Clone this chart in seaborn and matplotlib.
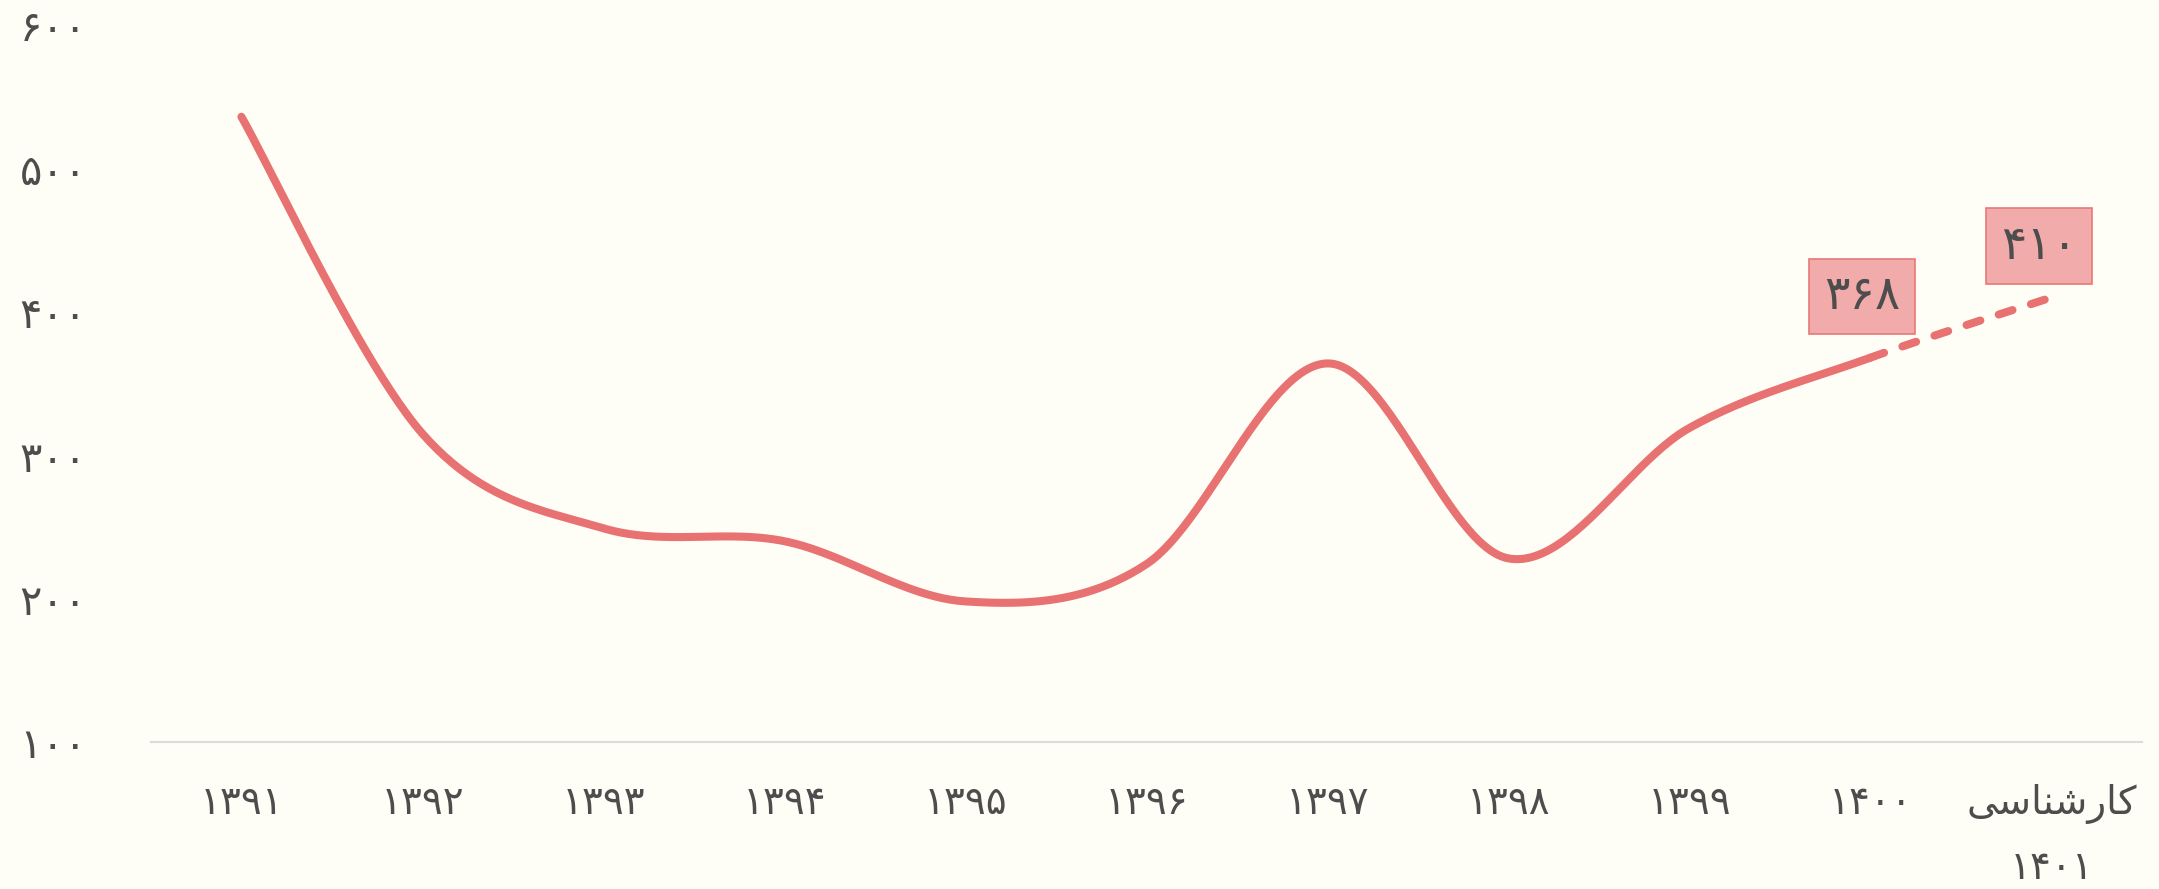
import numpy as np
import pandas as pd
import matplotlib.pyplot as plt
import seaborn as sns

# Data
categories = ['۱۳۹۱', '۱۳۹۲', '۱۳۹۳', '۱۳۹۴', '۱۳۹۵', '۱۳۹۶', '۱۳۹۷',
              '۱۳۹۸', '۱۳۹۹', '۱۴۰۰', 'کارشناسی\n۱۴۰۱']
values = [536, 315, 249, 240, 198, 224, 364, 228, 319, 368, 410]
labeled_points = [9, 10]          # points that carry a value box
label_offsets = [(-6, 44), (-9, 37)]  # box offset in points
y_ticks = [100, 200, 300, 400, 500, 600]

LINE = '#E87272'
TEXT = '#4D4D4D'
BG = '#FFFEF6'

FA_DIGITS = str.maketrans('0123456789', '۰۱۲۳۴۵۶۷۸۹')

# matplotlib does no Arabic shaping, so join the letters by hand
FORMS = {
    'ا': ('\ufe8d', '\ufe8e', None, None),
    'ر': ('\ufead', '\ufeae', None, None),
    'ش': ('\ufeb5', '\ufeb6', '\ufeb7', '\ufeb8'),
    'س': ('\ufeb1', '\ufeb2', '\ufeb3', '\ufeb4'),
    'ن': ('\ufee5', '\ufee6', '\ufee7', '\ufee8'),
    'ک': ('\ufb8e', '\ufb8f', '\ufb90', '\ufb91'),
    'ی': ('\ufbfc', '\ufbfd', '\ufbfe', '\ufbff'),
}


def shape(word):
    if not any(ch in FORMS for ch in word):
        return word
    out = []
    for i, ch in enumerate(word):
        if ch not in FORMS:
            out.append(ch)
            continue
        iso, fin, ini, med = FORMS[ch]
        prev_joins = i > 0 and word[i - 1] in FORMS and FORMS[word[i - 1]][2] is not None
        next_joins = ini is not None and i + 1 < len(word) and word[i + 1] in FORMS
        if prev_joins and next_joins:
            out.append(med)
        elif prev_joins:
            out.append(fin)
        elif next_joins:
            out.append(ini)
        else:
            out.append(iso)
    return ''.join(reversed(out))


def smooth_segments(xs, ys, n=50):
    # bezier segments like a spreadsheet "smoothed line"
    p = np.column_stack([xs, ys]).astype(float)
    ext = np.vstack([p[0], p, p[-1]])
    t = np.linspace(0, 1, n)[:, None]
    segs = []
    for i in range(len(p) - 1):
        p0, p1, p2, p3 = ext[i], ext[i + 1], ext[i + 2], ext[i + 3]
        c1 = p1 + (p2 - p0) / 6
        c2 = p2 - (p3 - p1) / 6
        segs.append((1 - t) ** 3 * p1 + 3 * (1 - t) ** 2 * t * c1
                    + 3 * (1 - t) * t ** 2 * c2 + t ** 3 * p2)
    return segs


sns.set_theme(style='white')
plt.rcParams['font.family'] = ['DejaVu Sans']

x = np.arange(len(categories))
segs = smooth_segments(x, values)
solid = pd.DataFrame(np.vstack(segs[:-1]), columns=['x', 'y'])
dashed = pd.DataFrame(segs[-1], columns=['x', 'y'])

fig = plt.figure(figsize=(21.59, 8.89), dpi=100, facecolor=BG)
ax = fig.add_axes([0.0699, 0.1654, 0.9222, 0.8065])
ax.set_facecolor(BG)

sns.lineplot(data=solid, x='x', y='y', ax=ax, color=LINE, lw=5.8,
             estimator=None, sort=False, solid_capstyle='round')
sns.lineplot(data=dashed, x='x', y='y', ax=ax, color=LINE, lw=5.8,
             estimator=None, sort=False, linestyle=(0, (1.8, 2.4)),
             dash_capstyle='round')

for i, (dx, dy) in zip(labeled_points, label_offsets):
    ax.annotate(str(values[i]).translate(FA_DIGITS), (x[i], values[i]),
                xytext=(dx, dy), textcoords='offset points',
                ha='center', va='center', fontsize=34, color=TEXT,
                bbox=dict(boxstyle='square,pad=0.32', fc='#F2ABAB',
                          ec='#E87878', lw=1.2))

ax.set_xlim(-0.5, len(categories) - 0.5)
ax.set_ylim(100, 600)
ax.set_xticks(x)
ax.set_xticklabels(['\n'.join(shape(s) for s in c.split('\n')) for c in categories],
                   fontsize=28, color=TEXT, linespacing=1.85)
ax.set_yticks(y_ticks)
ax.set_yticklabels([str(v).translate(FA_DIGITS) for v in y_ticks],
                   fontsize=30, color=TEXT)
ax.tick_params(axis='x', length=0, pad=30)
ax.tick_params(axis='y', length=0, pad=46)
ax.set_xlabel('')
ax.set_ylabel('')

for side in ['left', 'right', 'top']:
    ax.spines[side].set_visible(False)
ax.spines['bottom'].set_color('#DCDCDC')
ax.spines['bottom'].set_linewidth(1.6)

fig.savefig('out.png', dpi=100, facecolor=BG)
